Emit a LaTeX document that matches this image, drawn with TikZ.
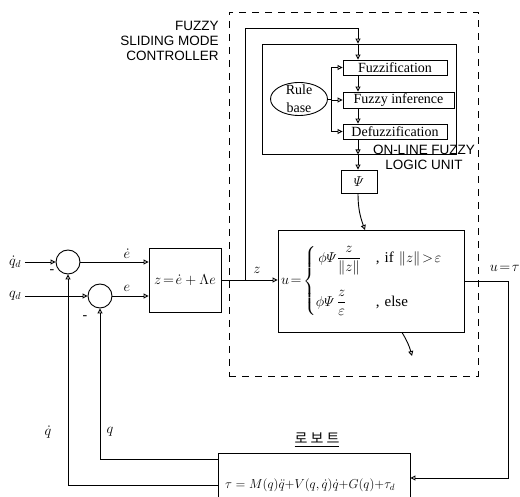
\documentclass[tikz,border=0pt]{standalone}
\usepackage{amsmath}
\usepackage{graphicx}
\usepackage{fontspec}
\setmainfont{Liberation Serif}
\setsansfont{Liberation Sans}
\newfontfamily\krfont{Noto Sans CJK KR}
\usetikzlibrary{positioning,arrows.meta,calc,shapes.geometric}

\begin{document}
\begin{tikzpicture}[
    x=1pt, y=-1pt, line width=0.9pt,
    font=\fontsize{14}{16}\selectfont,
    blk/.style={draw, inner sep=1pt, align=center},
    fbox/.style={draw, inner sep=0pt, minimum height=15pt,
                 font=\fontsize{14}{15}\selectfont},
    sumc/.style={draw, circle, minimum size=24pt, inner sep=0pt},
    arr/.style={-{Triangle[open, length=5pt, width=5pt]}},
    sflbl/.style={font=\sffamily\fontsize{13.5}{15}\selectfont, inner sep=0pt},
  ]
  \useasboundingbox (0,0) rectangle (520,497);

  % controller frame
  \node[draw, dash pattern=on 7pt off 6pt, minimum width=249pt,
        minimum height=364pt] (fsmc) at (353.5,194) {};
  \node[sflbl, align=right, anchor=north east] (fsmclbl) at (219,21)
    {FUZZY\\SLIDING MODE\\CONTROLLER};

  % on-line fuzzy logic unit
  \node[draw, minimum width=194pt, minimum height=110pt] (fzu) at (359,99) {};
  \node[fbox, minimum width=104pt] (fuzz) at (395,67.5) {Fuzzification};
  \node[fbox, minimum width=111pt, minimum height=16pt] (inf) at (398.5,100) {Fuzzy inference};
  \node[fbox, minimum width=104pt] (defuzz) at (395,131.5) {Defuzzification};
  \node[draw, ellipse, minimum width=57pt, minimum height=33pt,
        label={[align=center, font=\fontsize{14}{18}\selectfont]center:Rule\\base}]
    (rule) at (299,99) {};
  \node[sflbl, align=center] (fzulbl) at (424,157) {ON-LINE FUZZY\\LOGIC UNIT};
  \node[blk, minimum width=36pt, minimum height=23pt] (psi) at (359,181.5) {$\varPsi$};

  \coordinate (col) at (358,0);
  \coordinate (br) at (331,0);
  \coordinate (loop) at (358,28);

  % control law
  \node[blk, minimum width=186pt, minimum height=102pt, text width=180pt,
        align=left, inner sep=2pt, font=\fontsize{15}{17}\selectfont] (ubox) at (371,281)
    {$u\!=\!\begin{cases}\,\phi\varPsi\dfrac{z}{\|z\|} & \text{, if }\|z\|\!>\!\varepsilon\\[22pt]
       \phi\varPsi\,\dfrac{z}{\varepsilon} & \text{, else}\end{cases}$};
  \coordinate (pin) at (365,230);
  \coordinate (uout) at (412,356);
  \coordinate (rc) at (508,478);

  % error dynamics
  \node[blk, minimum width=72pt, minimum height=64pt] (zbox) at (185,280) {$z\!=\!\dot e+\Lambda e$};
  \node[sumc] (s1) at (68,262) {};
  \node[sumc] (s2) at (100,296) {};
  \coordinate (jz) at (245,280);

  % robot
  \node[blk, minimum width=192pt, minimum height=64pt] (robot) at (314,485)
    {\scalebox{0.9}{$\tau=M(q)\ddot q{+}V(q,\dot q)\dot q{+}G(q){+}\tau_d$}\hspace{8pt}};
  \node (robotlbl) at (317,440) {\krfont\underline{로 보 트}};

  % labels
  \node (qdd) at (15,262) {$\dot q_d$};
  \node (qd) at (15,296) {$q_d$};
  \node (m1) at (52,272) {-};
  \node (m2) at (85,318) {-};
  \node (edot) at (127,254) {$\dot e$};
  \node (elbl) at (127,288) {$e$};
  \node (zlbl) at (257,270) {$z$};
  \node (qdotlbl) at (48,432) {$\dot q$};
  \node (qlbl) at (110,432) {$q$};
  \node[anchor=west] (utau) at (486,268) {$u\!=\!\tau$};

  % connectors
  \draw[arr] (qdd) -- (s1);
  \draw[arr] (qd) -- (s2);
  \draw[arr] (s1) -- (zbox.west |- s1);
  \draw[arr] (s2) -- (zbox.west |- s2);
  \draw[arr] (zbox.east) -- (ubox.west |- zbox.east);
  \draw[arr] (jz) |- (loop) -- (fzu.north -| col);
  \draw[arr] (fzu.north -| col) -- (fuzz.north -| col);
  \draw[arr] (fuzz.south -| col) -- (inf.north -| col);
  \draw[arr] (inf.south -| col) -- (defuzz.north -| col);
  \draw[arr] (defuzz.south -| col) -- (fzu.south -| col);
  \draw[arr] (fzu.south -| col) -- (psi.north -| col);
  \draw (rule) -- (rule -| br);
  \draw[arr] (rule -| br) |- (fuzz);
  \draw[arr] (rule -| br) |- (inf);
  \draw[arr] (rule -| br) |- (defuzz);
  \draw[arr] (psi.south -| col) to[out=-90, in=110] (pin);
  \draw[arr] ($(ubox.south)+(31,0)$) to[bend left=8] (uout);
  \draw[arr] (ubox.east) -| (rc) -- (robot.east |- rc);
  \draw[arr] (robot.west) -| (s1.south);
  \draw[arr] ($(robot.north west)+(0,7)$) -| (s2.south);
\end{tikzpicture}
\end{document}
